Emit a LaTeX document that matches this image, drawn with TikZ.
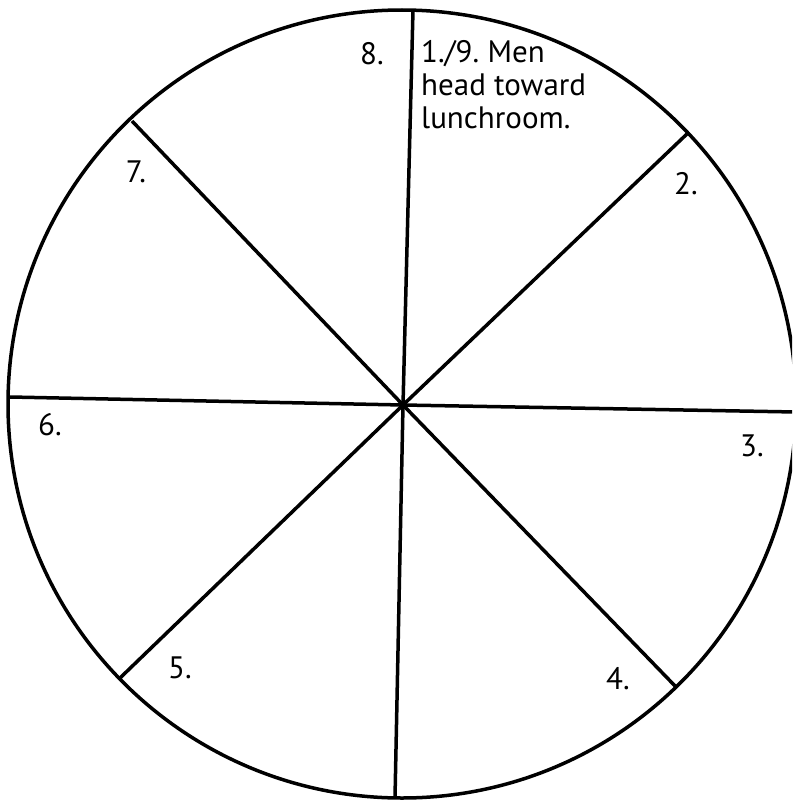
\documentclass[tikz,border=0pt]{standalone}
\usepackage{fontspec}
\setmainfont{PT Sans}
\begin{document}
\frenchspacing
\begin{tikzpicture}[x=1pt,y=-1pt,
  spoke/.style={line width=3.5pt},
  lab/.style={font=\fontsize{31}{33}\selectfont, inner sep=0pt}]
\useasboundingbox (0,0) rectangle (792,800);
\clip (0,0) rectangle (792,800);
\coordinate (c) at (403,405);
\draw[spoke] (402,404) circle (394);
\coordinate (t) at (413,10);
\coordinate (b) at (395,798);
\coordinate (l) at (10,397);
\coordinate (r) at (796,412);
\coordinate (ul) at (132,121);
\coordinate (ur) at (689,132);
\coordinate (ll) at (120,678);
\coordinate (lr) at (677,688);
\draw[spoke] (t) -- (c) -- (b);
\draw[spoke] (l) -- (c) -- (r);
\draw[spoke] (ul) -- (c) -- (lr);
\draw[spoke] (ur) -- (c) -- (ll);
\node[lab] (n8) at (372,54) {8.};
\node[lab, anchor=north west, align=left] (n1) at (421,40) {1./9. Men\\head toward\\lunchroom.};
\node[lab] (n7) at (136,172) {7.};
\node[lab] (n2) at (686,184) {2.};
\node[lab] (n6) at (50,425) {6.};
\node[lab] (n3) at (752,446) {3.};
\node[lab] (n5) at (180,668) {5.};
\node[lab] (n4) at (618,679) {4.};
\end{tikzpicture}
\end{document}
